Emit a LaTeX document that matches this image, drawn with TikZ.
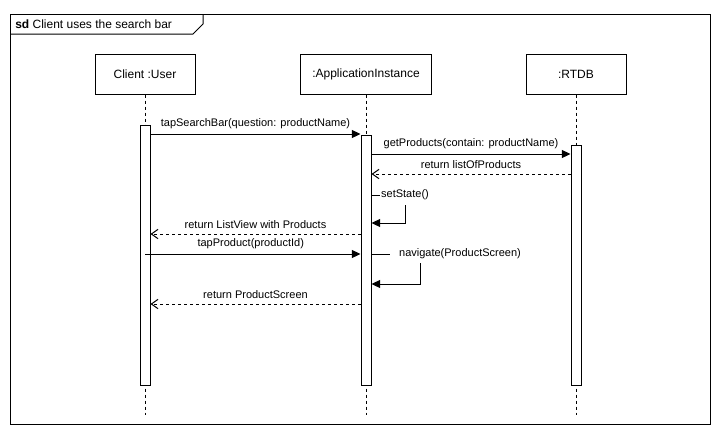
\documentclass[tikz,border=0pt]{standalone}
\usepackage{fontspec}
\setmainfont{Liberation Sans}
\usetikzlibrary{calc,positioning,arrows.meta}
\tikzstyle{msg} = [line width=0.75pt, -{Triangle[length=6.5pt,width=6pt]}]
\tikzstyle{ret} = [line width=0.75pt, dash pattern=on 2.25pt off 2.25pt, -{Straight Barb[length=5pt,width=7pt]}]
\tikzstyle{life} = [line width=0.75pt, dash pattern=on 2.25pt off 2.25pt]
\tikzstyle{line} = [line width=0.75pt]

\begin{document}
\begin{tikzpicture}[x=0.75pt, y=-0.75pt]
\tikzset{%
	head/.style = { rectangle, draw=black, line width=0.75pt, minimum height=30pt, font=\fontsize{9}{11}\selectfont },
	bar/.style = { rectangle, draw=black, fill=white, line width=0.75pt, minimum width=7.5pt, inner sep=0pt },
	msgtext/.style = { font=\fontsize{8.25}{10}\selectfont }
}
\useasboundingbox (0,0) rectangle (726,436);

% frame
\draw [line]	(10,14) rectangle (710,424);
\draw [line]	(10,34) -- (193,34) -- (203,24) -- (203,14);
\node(Title)			[anchor=west, inner sep=0pt, font=\fontsize{9}{11}\selectfont] at (15,24)
								{\textbf{sd} Client uses the search bar};

\node(Client)			[head, minimum width=75pt] at (145,74)
								{Client :User};
\node(App)				[head, minimum width=98.25pt] at (366,74)
								{:ApplicationInstance};
\node(RTDB)				[head, minimum width=75pt] at (576,74)
								{:RTDB};

\coordinate (End) at (0,415);
\draw [life]		(Client) -- (Client |- End);
\draw [life]		(App) -- (App |- End);
\draw [life]		(RTDB) -- (RTDB |- End);

\node(ClientBar)	[bar, minimum height=195pt, below=22.5pt of Client.south] {};
\node(AppBar)			[bar, minimum height=187.5pt, below=30pt of App.south] {};
\node(RTDBBar)		[bar, minimum height=180pt, below=37.5pt of RTDB.south] {};

\coordinate (m1) at (0,134);
\coordinate (m2) at (0,154);
\coordinate (m3) at (0,174);
\coordinate (m5) at (0,234);
\coordinate (m6) at (0,254);
\coordinate (m8) at (0,304);

\draw [msg]		(ClientBar.east |- m1) -- node[msgtext, above] {tapSearchBar(question: productName)} (AppBar.west |- m1);
\draw [msg]		(AppBar.east |- m2) -- node[msgtext, above] {getProducts(contain: productName)} (RTDBBar.west |- m2);
\draw [ret]		(RTDBBar.west |- m3) -- node[msgtext, above] {return listOfProducts} (AppBar.east |- m3);

% self calls
\coordinate (SetCorner) at (405,195);
\coordinate (SetBack) at (0,223);
\draw [msg]		(AppBar.east |- SetCorner) -- (SetCorner) |- (AppBar.east |- SetBack);
\node(SetState)		[msgtext, fill=white, inner xsep=1pt, inner ysep=3.5pt] at (SetCorner)
								{setState()};

\draw [ret]		(AppBar.west |- m5) -- node[msgtext, above] {return ListView with Products} (ClientBar.east |- m5);
\draw [msg]		(Client |- m6) -- node[msgtext, above, xshift=-1.5pt] {tapProduct(productId)} (AppBar.west |- m6);

\coordinate (NavCorner) at (420,254);
\coordinate (NavBack) at (0,284);
\draw [msg]		(AppBar.east |- NavCorner) -- (NavCorner) |- (AppBar.east |- NavBack);
\node(Navigate)		[msgtext, fill=white, inner xsep=6.5pt, inner ysep=2.8pt] at (460,254)
								{navigate(ProductScreen)};

\draw [ret]		(AppBar.west |- m8) -- node[msgtext, above] {return ProductScreen} (ClientBar.east |- m8);

\end{tikzpicture}
\end{document}
